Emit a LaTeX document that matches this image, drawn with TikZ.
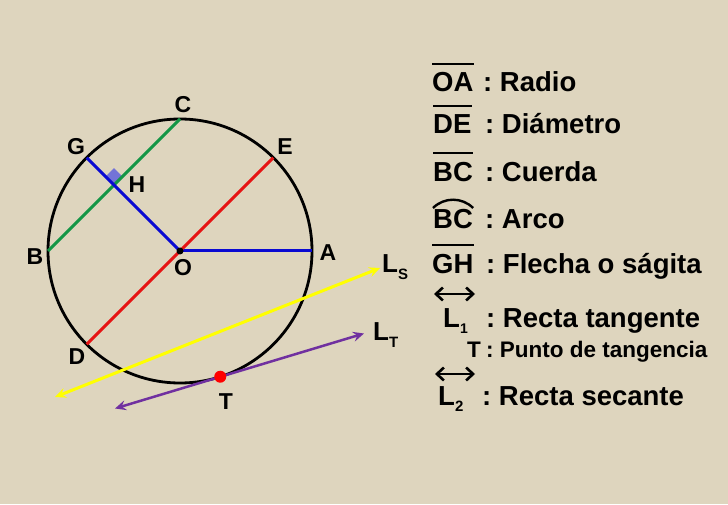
\documentclass[tikz,border=0pt]{standalone}
\usepackage{fontspec}
\setmainfont{Liberation Sans}
\usetikzlibrary{arrows.meta,calc}
\definecolor{bg}{RGB}{222,213,190}
\definecolor{cgreen}{RGB}{20,150,70}
\definecolor{cred}{RGB}{230,20,20}
\definecolor{cblue}{RGB}{10,10,210}
\definecolor{cyellow}{RGB}{255,255,0}
\definecolor{cpurple}{RGB}{112,48,160}
\definecolor{csq}{RGB}{115,115,215}
\begin{document}
\begin{tikzpicture}[x=1pt,y=1pt,
  lbl/.style={font=\fontsize{23}{23}\selectfont\bfseries, inner sep=0pt},
  leg/.style={font=\fontsize{27.5}{30}\selectfont\bfseries, inner sep=0pt, anchor=base west},
  smalltxt/.style={font=\fontsize{22.5}{24}\selectfont\bfseries, inner sep=0pt, anchor=base west},
  seg/.style={line width=3pt},
  bar/.style={line width=2.6pt},
  dbl/.style={line width=2.6pt, {Straight Barb[length=7pt,width=13pt]}-{Straight Barb[length=7pt,width=13pt]}},
  tip/.style={{Stealth[length=11pt,width=10pt,inset=4pt]}-{Stealth[length=11pt,width=10pt,inset=4pt]}},
]
\fill[bg] (0,0) rectangle (728,504);
\useasboundingbox (0,0) rectangle (728,504);

% geometry
\coordinate (O) at (180,253);
\coordinate (A) at ([shift={(0:132pt)}]O);
\coordinate (E) at ([shift={(45:132pt)}]O);
\coordinate (C) at ([shift={(90:132pt)}]O);
\coordinate (G) at ([shift={(135:132pt)}]O);
\coordinate (B) at ([shift={(180:132pt)}]O);
\coordinate (D) at ([shift={(225:132pt)}]O);
\coordinate (T) at ([shift={(-72.25:132pt)}]O);
\coordinate (H) at ($(B)!0.5!(C)$);
\coordinate (LS1) at (55,107);
\coordinate (LS2) at (380,236);
\coordinate (LT1) at (115,95.5);
\coordinate (LT2) at (364,170.5);

% right angle mark
\fill[csq] (H) -- ([shift={(135:12pt)}]H) -- ([shift={(90:16.97pt)}]H) -- ([shift={(45:12pt)}]H) -- cycle;

\draw[line width=2.8pt] (O) circle[radius=132pt];
\draw[seg, cgreen] (B) -- (C);
\draw[seg, cblue] (G) -- (O);
\draw[seg, cblue] (O) -- (A);
\draw[seg, cred] (D) -- (E);
\fill (O) circle[radius=3.5pt];
\draw[seg, cyellow, tip] (LS1) -- (LS2);
\draw[line width=2.5pt, cpurple, tip] (LT1) -- (LT2);
\fill[red] (T) circle[radius=6pt];

% point labels
\node[lbl] (lC) at (183,399) {C};
\node[lbl] (lG) at (76,357) {G};
\node[lbl] (lE) at (285,357) {E};
\node[lbl] (lH) at (137,319) {H};
\node[lbl] (lB) at (35,247) {B};
\node[lbl] (lO) at (183,236) {O};
\node[lbl] (lA) at (328,251) {A};
\node[lbl] (lD) at (77,147) {D};
\node[lbl] (lT) at (226,102) {T};
\node[lbl, anchor=base west, font=\fontsize{26}{26}\selectfont\bfseries] (lLS) at (382,232) {L\raisebox{-7pt}{\fontsize{15}{15}\selectfont S}};
\node[lbl, anchor=base west, font=\fontsize{26}{26}\selectfont\bfseries] (lLT) at (373,164) {L\raisebox{-7pt}{\fontsize{15}{15}\selectfont T}};

% legend
\node[leg] (kOA) at (432,412) {OA};
\node[leg] (dOA) at (483,412) {:\ Radio};
\draw[bar] ([yshift=28pt]kOA.base west) -- ([yshift=28pt]kOA.base east);

\node[leg] (kDE) at (433,370) {DE};
\node[leg] (dDE) at (485,370) {:\ Diámetro};
\draw[bar] ([yshift=28pt]kDE.base west) -- ([yshift=28pt]kDE.base east);

\node[leg] (kBC) at (433,322) {BC};
\node[leg] (dBC) at (485,322) {:\ Cuerda};
\draw[bar] ([yshift=29pt]kBC.base west) -- ([yshift=29pt]kBC.base east);

\node[leg] (kBCa) at (433,275) {BC};
\node[leg] (dBCa) at (485,275) {:\ Arco};
\draw[line width=2.4pt] ([shift={(0pt,21pt)}]kBCa.base west) to[bend left=45] ([shift={(0pt,21pt)}]kBCa.base east);

\node[leg] (kGH) at (432,231) {GH};
\node[leg] (dGH) at (486,231) {:\ Flecha o ságita};
\draw[bar] ([yshift=28pt]kGH.base west) -- ([yshift=28pt]kGH.base east);

\coordinate (a1l) at (434,210);
\coordinate (a1r) at (475,210);
\draw[dbl] (a1l) -- (a1r);
\node[leg] (kL1) at (443,177) {L\raisebox{-6pt}{\fontsize{14}{14}\selectfont 1}};
\node[leg] (dL1) at (486,177) {:\ Recta tangente};

\node[smalltxt] (kT) at (467,147) {T};
\node[smalltxt] (dT) at (486,147) {:\ Punto de tangencia};

\coordinate (a2l) at (435,130);
\coordinate (a2r) at (475,130);
\draw[dbl] (a2l) -- (a2r);
\node[leg] (kL2) at (438,99) {L\raisebox{-6pt}{\fontsize{15}{15}\selectfont 2}};
\node[leg] (dL2) at (482,99) {:\ Recta secante};
\end{tikzpicture}
\end{document}
